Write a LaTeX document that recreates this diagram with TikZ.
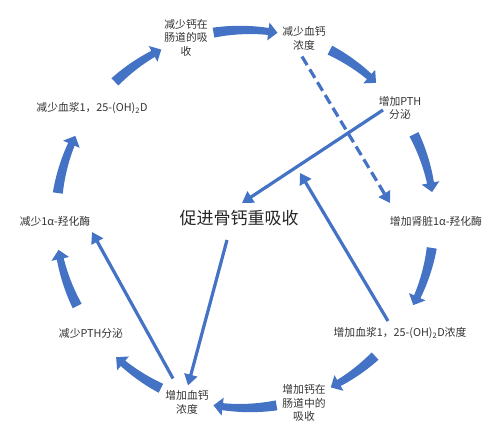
\documentclass[tikz,border=0pt]{standalone}
\usepackage{fontspec}
\setmainfont{Noto Sans CJK SC}
\usetikzlibrary{arrows.meta,calc}
\definecolor{ablue}{HTML}{4472C4}
% curved block arrow on the ring: #1 tail angle, #2 tip angle (clockwise)
\newcommand\ringarrow[2]{%
  \pgfmathsetmacro\neckang{#2+2.8}%
  \fill[ablue] plot[domain=#1:\neckang,samples=24] (\x:{194-1.5*((#1)-\x)/((#1)-(\neckang))})
    -- (\neckang:198) -- (#2:189) -- (\neckang:180)
    -- plot[domain=\neckang:#1,samples=24] (\x:{184+1.5*((#1)-\x)/((#1)-(\neckang))}) -- cycle;}
\begin{document}
\begin{tikzpicture}[x=1pt,y=1pt,
  lbl/.style={align=center,font=\fontsize{10.8}{13.5}\selectfont,text=black!80,inner sep=1pt},
  bigtext/.style={font=\fontsize{17}{20}\selectfont,text=black!85,inner sep=1pt},
  link/.style={draw=ablue,line width=3.2pt,-{Triangle[width=13pt,length=11pt]}},
  dlink/.style={link,dash pattern=on 10pt off 5pt}]
\useasboundingbox (0,0) rectangle (501,435);
% nodes
\node[lbl] (n1) at (186,397.5) {减少钙在\\肠道的吸\\收};
\node[lbl] (n2) at (304,396.5) {减少血钙\\浓度};
\node[lbl] (n3) at (400,327) {增加PTH\\分泌};
\node[lbl] (n4) at (436,214) {增加肾脏1α-羟化酶};
\node[lbl] (n5) at (400,102) {增加血浆1，25-(OH)\textsubscript{2}D浓度};
\node[lbl] (n6) at (304,32) {增加钙在\\肠道中的\\吸收};
\node[lbl] (n7) at (187,32.5) {增加血钙\\浓度};
\node[lbl] (n8) at (91,102) {减少PTH分泌};
\node[lbl] (n9) at (55,214) {减少1α-羟化酶};
\node[lbl] (n10) at (92,327) {减少血浆1，25-(OH)\textsubscript{2}D};
\node[bigtext] (c) at (239,217) {促进骨钙重吸收};
% ring of curved arrows
\begin{scope}[shift={(245,216)}]
  \ringarrow{133.5}{116.3}
  \ringarrow{99.6}{80.1}
  \ringarrow{63.3}{46.1}
  \ringarrow{26.6}{8.2}
  \ringarrow{-8.8}{-27.1}
  \ringarrow{-46.5}{-63}
  \ringarrow{-80.4}{-99.6}
  \ringarrow{-116.4}{-133}
  \ringarrow{-152.6}{-170.6}
  \ringarrow{172.1}{153.9}
\end{scope}
% straight connectors
\draw[dlink] ($(n2)+(-2,-18)$) -- ($(n4)+(-46,18)$);
\draw[link] ($(n3)+(-17,-2)$) -- ($(c)+(3,15)$);
\draw[link] ($(n5)+(-12,12)$) -- ($(c)+(61,45)$);
\draw[link] ($(c)+(-12,-22)$) -- ($(n7)+(1,17)$);
\draw[link] ($(n7)+(-14,24)$) -- ($(n9)+(37,-11)$);
\end{tikzpicture}
\end{document}
